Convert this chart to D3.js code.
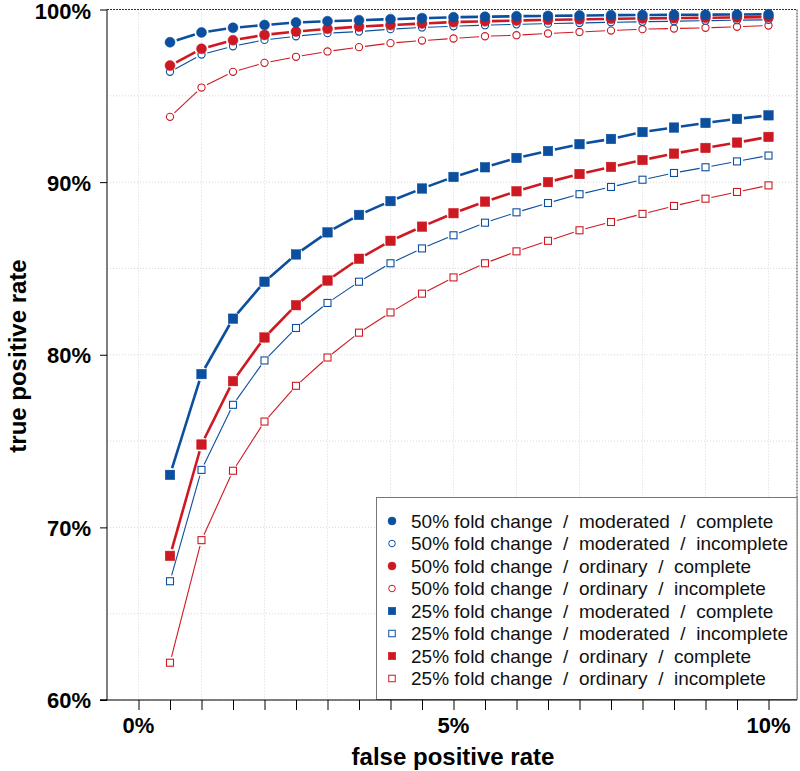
<!DOCTYPE html>
<html>
<head>
<meta charset="utf-8">
<script src="https://cdn.jsdelivr.net/npm/d3@7"></script>
<style>
  html, body { margin: 0; padding: 0; background: #fff; }
  svg { display: block; }
  text { font-family: "Liberation Sans", Arial, Helvetica, sans-serif; }
</style>
</head>
<body>
<svg id="chart" width="800" height="771"></svg>
<script>
// ---- data ----
const fpr = [0.5, 1, 1.5, 2, 2.5, 3, 3.5, 4, 4.5, 5, 5.5, 6, 6.5, 7, 7.5, 8, 8.5, 9, 9.5, 10];

const fc50ModComplete   = [98.10, 98.67, 98.94, 99.10, 99.25, 99.32, 99.38, 99.44, 99.50, 99.55, 99.58, 99.61, 99.63, 99.65, 99.67, 99.68, 99.69, 99.70, 99.71, 99.72];
const fc50ModIncomplete = [96.39, 97.39, 97.87, 98.24, 98.45, 98.63, 98.72, 98.86, 98.96, 99.03, 99.09, 99.14, 99.18, 99.22, 99.26, 99.29, 99.32, 99.35, 99.38, 99.40];
const fc50OrdComplete   = [96.75, 97.72, 98.22, 98.53, 98.72, 98.88, 99.01, 99.10, 99.19, 99.27, 99.32, 99.36, 99.40, 99.43, 99.46, 99.48, 99.50, 99.52, 99.54, 99.55];
const fc50OrdIncomplete = [93.78, 95.48, 96.39, 96.91, 97.26, 97.57, 97.82, 98.05, 98.20, 98.32, 98.45, 98.51, 98.61, 98.70, 98.78, 98.86, 98.90, 98.94, 99.00, 99.07];
const fc25ModComplete   = [73.04, 78.88, 82.09, 84.23, 85.81, 87.09, 88.10, 88.90, 89.63, 90.30, 90.86, 91.40, 91.80, 92.20, 92.50, 92.90, 93.16, 93.43, 93.66, 93.87];
const fc25ModIncomplete = [66.88, 73.33, 77.10, 79.67, 81.55, 83.00, 84.23, 85.30, 86.16, 86.92, 87.65, 88.25, 88.79, 89.30, 89.72, 90.14, 90.53, 90.86, 91.20, 91.54];
const fc25OrdComplete   = [68.35, 74.80, 78.47, 81.00, 82.87, 84.30, 85.56, 86.60, 87.42, 88.20, 88.87, 89.47, 90.00, 90.47, 90.88, 91.28, 91.65, 91.98, 92.29, 92.62];
const fc25OrdIncomplete = [62.16, 69.26, 73.28, 76.13, 78.20, 79.84, 81.28, 82.45, 83.54, 84.48, 85.30, 85.99, 86.60, 87.21, 87.69, 88.16, 88.62, 89.04, 89.43, 89.81];

const seriesLabels = [
  "50% fold change  /  moderated  /  complete",
  "50% fold change  /  moderated  /  incomplete",
  "50% fold change  /  ordinary  /  complete",
  "50% fold change  /  ordinary  /  incomplete",
  "25% fold change  /  moderated  /  complete",
  "25% fold change  /  moderated  /  incomplete",
  "25% fold change  /  ordinary  /  complete",
  "25% fold change  /  ordinary  /  incomplete"
];
const seriesValues = [fc50ModComplete, fc50ModIncomplete, fc50OrdComplete, fc50OrdIncomplete,
                      fc25ModComplete, fc25ModIncomplete, fc25OrdComplete, fc25OrdIncomplete];
const seriesShape  = ["circle", "circle", "circle", "circle", "square", "square", "square", "square"];
const seriesFilled = [true, false, true, false, true, false, true, false];
const seriesColor  = ["blue", "blue", "red", "red", "blue", "blue", "red", "red"];

const xTickLabels = ["0%", "5%", "10%"];
const yTickLabels = ["60%", "70%", "80%", "90%", "100%"];

// ---- styles ----
const COLORS = { blue: "#0b4f9e", red: "#cd1a22" };
const svg = d3.select("#chart");

const x = d3.scaleLinear().domain([0, 10]).range([138.5, 768.5]);
const y = d3.scaleLinear().domain([60, 100]).range([700, 9.5]);

const plotLeft = 107, plotRight = 797, plotTop = 9.5, plotBottom = 700;

// grid
const grid = svg.append("g");
grid.selectAll("line.vg").data(d3.range(0, 11, 1)).enter().append("line")
  .attr("x1", d => x(d)).attr("x2", d => x(d))
  .attr("y1", plotTop).attr("y2", plotBottom)
  .attr("stroke", "#d8d8d8").attr("stroke-width", 1).attr("stroke-dasharray", "1,2");
grid.selectAll("line.hg").data(d3.range(60, 100, 5)).enter().append("line")
  .attr("x1", plotLeft).attr("x2", plotRight)
  .attr("y1", d => y(d)).attr("y2", d => y(d))
  .attr("stroke", "#d8d8d8").attr("stroke-width", 1).attr("stroke-dasharray", "1,2");

// frame (top & right dashed)
svg.append("line").attr("x1", plotLeft).attr("x2", plotRight).attr("y1", plotTop).attr("y2", plotTop)
  .attr("stroke", "#333").attr("stroke-width", 1).attr("stroke-dasharray", "2,1");
svg.append("line").attr("x1", plotRight).attr("x2", plotRight).attr("y1", plotTop).attr("y2", plotBottom)
  .attr("stroke", "#333").attr("stroke-width", 1).attr("stroke-dasharray", "2,1");

// series
const pts = seriesValues.map(vals => vals.map((v, i) => [x(fpr[i]), y(v)]));
const drawOrder = [7, 6, 5, 4, 3, 1, 2, 0];
drawOrder.forEach(si => {
  const col = COLORS[seriesColor[si]];
  const filled = seriesFilled[si];
  const g = svg.append("g");
  const gap = filled ? 7 : 6;
  const segs = [];
  for (let i = 0; i < pts[si].length - 1; i++) {
    const [x0, y0] = pts[si][i], [x1, y1] = pts[si][i + 1];
    const dx = x1 - x0, dy = y1 - y0, L = Math.hypot(dx, dy);
    if (L > 2 * gap + 1) {
      const ux = dx / L, uy = dy / L;
      segs.push([x0 + ux * gap, y0 + uy * gap, x1 - ux * gap, y1 - uy * gap]);
    }
  }
  g.selectAll("line").data(segs).enter().append("line")
    .attr("x1", d => d[0]).attr("y1", d => d[1]).attr("x2", d => d[2]).attr("y2", d => d[3])
    .attr("stroke", col).attr("stroke-width", filled ? 2.6 : 1.1);
  if (seriesShape[si] === "circle") {
    g.selectAll("circle").data(pts[si]).enter().append("circle")
      .attr("cx", d => d[0]).attr("cy", d => d[1])
      .attr("r", filled ? 5 : 3.6)
      .attr("fill", filled ? col : "#fff")
      .attr("stroke", col).attr("stroke-width", filled ? 0.5 : 1.1);
  } else {
    const s = filled ? 9.5 : 7;
    g.selectAll("rect").data(pts[si]).enter().append("rect")
      .attr("x", d => d[0] - s / 2).attr("y", d => d[1] - s / 2)
      .attr("width", s).attr("height", s)
      .attr("fill", filled ? col : "#fff")
      .attr("stroke", col).attr("stroke-width", filled ? 0.5 : 1.1);
  }
});

// legend
const lg = svg.append("g");
lg.append("rect").attr("x", 376.5).attr("y", 497.5).attr("width", 420.5).attr("height", 202)
  .attr("fill", "#fff").attr("stroke", "#777").attr("stroke-width", 1);
seriesLabels.forEach((lab, i) => {
  const cy = 521 + i * 22.5;
  const col = COLORS[seriesColor[i]];
  const filled = seriesFilled[i];
  if (seriesShape[i] === "circle") {
    lg.append("circle").attr("cx", 392).attr("cy", cy).attr("r", filled ? 4 : 3.3)
      .attr("fill", filled ? col : "#fff").attr("stroke", col).attr("stroke-width", filled ? 0.5 : 1);
  } else {
    const s = filled ? 7.5 : 6.5;
    lg.append("rect").attr("x", 392 - s / 2).attr("y", cy - s / 2).attr("width", s).attr("height", s)
      .attr("fill", filled ? col : "#fff").attr("stroke", col).attr("stroke-width", filled ? 0.5 : 1);
  }
  lg.append("text").attr("x", 411).attr("y", cy + 6.8)
    .attr("font-size", "19px").attr("fill", "#111").style("white-space", "pre")
    .text(lab);
});

// axes
const yAxis = d3.axisLeft(y).tickValues([60, 70, 80, 90, 100]).tickSize(7)
  .tickFormat((d, i) => yTickLabels[i]).tickPadding(9);
const yg = svg.append("g").attr("transform", `translate(${plotLeft},0)`).call(yAxis);
yg.select(".domain").attr("d", `M-7,${plotBottom}H0V${plotTop}`).attr("stroke", "#000");
yg.selectAll(".tick line").attr("stroke", "#000");
yg.selectAll(".tick text").attr("font-size", "22px").attr("font-weight", "bold").attr("fill", "#000")
  .attr("dy", (d) => d === 100 ? "0.42em" : "0.36em");

const xAxis = d3.axisBottom(x).tickValues(d3.range(0, 10.01, 0.5)).tickSize(10).tickFormat(() => "");
const xg = svg.append("g").attr("transform", `translate(0,${plotBottom})`).call(xAxis);
xg.select(".domain").attr("d", `M100,0H${plotRight}`).attr("stroke", "#000");
xg.selectAll(".tick line").attr("stroke", "#000");
xg.selectAll("text.xl").data([0, 5, 10]).enter().append("text")
  .attr("class", "xl")
  .attr("x", d => x(d)).attr("y", 33)
  .attr("text-anchor", "middle").attr("font-size", "22px").attr("font-weight", "bold").attr("fill", "#000")
  .text((d, i) => xTickLabels[i]);

// axis titles
svg.append("text").attr("x", 453).attr("y", 765).attr("text-anchor", "middle")
  .attr("font-size", "24px").attr("font-weight", "bold").attr("fill", "#000")
  .text("false positive rate");
svg.append("text").attr("transform", "translate(26,356) rotate(-90)").attr("text-anchor", "middle")
  .attr("font-size", "24px").attr("font-weight", "bold").attr("fill", "#000")
  .text("true positive rate");
</script>
</body>
</html>
